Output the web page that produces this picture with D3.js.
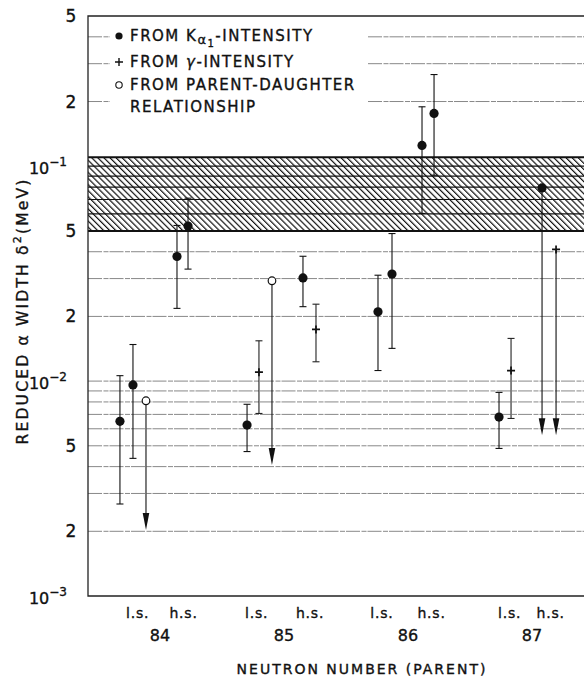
<!DOCTYPE html>
<html><head><meta charset="utf-8">
<script src="https://cdn.jsdelivr.net/npm/d3@7"></script>
<style>
html,body{margin:0;padding:0;background:#fff;}
svg{display:block;}
text{font-family:"DejaVu Sans",sans-serif;fill:#111;stroke:#111;stroke-width:0.35px;}
</style></head>
<body>
<svg id="c" width="584" height="677"></svg>
<script>
// ---- data ----
const groups = [84, 85, 86, 87];
const lsPos = [83.82, 84.78, 85.79, 86.82];
const hsPos = [84.19, 85.21, 86.19, 87.15];

// filled circles: from K-alpha1 intensity
const kaX   = [83.677, 83.782, 84.137, 84.226, 84.702, 85.153, 85.758, 85.871, 86.113, 86.210, 86.734];
const kaVal = [0.0065, 0.0096, 0.038, 0.0527, 0.00624, 0.0302, 0.021, 0.0315, 0.125, 0.176, 0.0068];
const kaLo  = [0.00268, 0.00437, 0.0218, 0.0332, 0.0047, 0.0222, 0.0112, 0.0142, 0.0603, 0.0908, 0.00486];
const kaHi  = [0.0106, 0.0148, 0.053, 0.071, 0.0078, 0.0381, 0.0311, 0.0486, 0.189, 0.267, 0.00886];
// filled circle upper limits
const kaLimX = [87.081];
const kaLimVal = [0.0792];
const kaLimTo = [0.0056];

// plus: from gamma intensity
const gX   = [84.798, 85.258, 86.831];
const gVal = [0.011, 0.0174, 0.0112];
const gLo  = [0.00707, 0.0123, 0.0067];
const gHi  = [0.0154, 0.0228, 0.0158];
const gLimX = [87.194];
const gLimVal = [0.041];
const gLimTo = [0.0056];

// open circles: parent-daughter relationship (upper limits)
const pdX = [83.887, 84.903];
const pdVal = [0.0081, 0.0293];
const pdTo = [0.00203, 0.00407];

// band (hatched)
const bandLo = 0.05, bandHi = 0.11;

// axis ticks
const yTickVals = [0.5, 0.2, 0.1, 0.05, 0.02, 0.01, 0.005, 0.002, 0.001];
const yTickText = ["5", "2", "10|−1", "5", "2", "10|−2", "5", "2", "10|−3"];
const gridFull = [0.002,0.003,0.004,0.005,0.006,0.007,0.008,0.009,0.01,0.02,0.03,0.04];
const gridBand = [0.06,0.07,0.08,0.09,0.1];
const gridTop = [0.2,0.3,0.4];

// ---- layout ----
const L = 88, R = 600, T = 16, B = 596;
const svg = d3.select("#c");
const y = d3.scaleLog().domain([0.001, 0.5]).range([B, T]);
const x = d3.scaleLinear().domain([84, 87]).range([160, 532]);

const defs = svg.append("defs");
const pat = defs.append("pattern").attr("id","hatch").attr("patternUnits","userSpaceOnUse")
  .attr("width",4.3).attr("height",4.3).attr("patternTransform","rotate(-45)");
pat.append("line").attr("x1",0.6).attr("y1",-1).attr("x2",0.6).attr("y2",5.3)
  .attr("stroke","#111").attr("stroke-width",1.2);
defs.append("clipPath").attr("id","clip").append("rect").attr("x",L).attr("y",T).attr("width",584-L).attr("height",B-T);

const plot = svg.append("g").attr("clip-path","url(#clip)");

// gridlines
const gridStyle = s => s.attr("stroke","#7a7a7a").attr("stroke-width",0.9).attr("stroke-dasharray","14,1.5,5,1");
plot.selectAll(".gf").data(gridFull).enter().append("line")
  .attr("x1",L).attr("x2",R).attr("y1",d=>y(d)).attr("y2",d=>y(d)).call(gridStyle);
plot.selectAll(".gt1").data(gridTop).enter().append("line")
  .attr("x1",L).attr("x2",110).attr("y1",d=>y(d)).attr("y2",d=>y(d)).call(gridStyle);
plot.selectAll(".gt2").data(gridTop).enter().append("line")
  .attr("x1",368).attr("x2",R).attr("y1",d=>y(d)).attr("y2",d=>y(d)).call(gridStyle);

// hatched band
plot.append("rect").attr("x",L).attr("width",R-L).attr("y",y(bandHi)).attr("height",y(bandLo)-y(bandHi))
  .attr("fill","url(#hatch)");
plot.selectAll(".gb").data(gridBand).enter().append("line")
  .attr("x1",L).attr("x2",R).attr("y1",d=>y(d)).attr("y2",d=>y(d)).attr("stroke","#111").attr("stroke-width",1.2);
plot.selectAll(".bb").data([bandLo, bandHi]).enter().append("line")
  .attr("x1",L).attr("x2",R).attr("y1",d=>y(d)).attr("y2",d=>y(d)).attr("stroke","#111").attr("stroke-width",2);

// frame
svg.append("path").attr("d",`M584,${T}H${L}V${B}H584`).attr("fill","none").attr("stroke","#222").attr("stroke-width",1.3);

// error bars
const cap = 3.5;
function errBars(xs, lo, hi, col) {
  xs.forEach((xv,i)=>{
    const g = plot.append("g").attr("stroke",col).attr("stroke-width",1.1);
    g.append("line").attr("x1",x(xv)).attr("x2",x(xv)).attr("y1",y(lo[i])).attr("y2",y(hi[i]));
    g.append("line").attr("x1",x(xv)-cap).attr("x2",x(xv)+cap).attr("y1",y(lo[i])).attr("y2",y(lo[i]));
    g.append("line").attr("x1",x(xv)-cap).attr("x2",x(xv)+cap).attr("y1",y(hi[i])).attr("y2",y(hi[i]));
  });
}
errBars(kaX, kaLo, kaHi, "#111");
errBars(gX, gLo, gHi, "#222");

// upper-limit arrows
function arrows(xs, from, to) {
  xs.forEach((xv,i)=>{
    const px = x(xv), y0 = y(from[i]), y1 = y(to[i]);
    plot.append("line").attr("x1",px).attr("x2",px).attr("y1",y0).attr("y2",y1-10).attr("stroke","#111").attr("stroke-width",1.1);
    plot.append("path").attr("d",`M${px-3.3},${y1-17}L${px+3.3},${y1-17}L${px},${y1}Z`).attr("fill","#111");
  });
}
arrows(kaLimX, kaLimVal, kaLimTo);
arrows(gLimX, gLimVal, gLimTo);
arrows(pdX, pdVal, pdTo);

// markers
plot.selectAll(".ka").data(kaX.concat(kaLimX)).enter().append("circle")
  .attr("cx",d=>x(d)).attr("cy",(d,i)=>y(kaVal.concat(kaLimVal)[i])).attr("r",4.6).attr("fill","#111");
const gAllX = gX.concat(gLimX), gAllV = gVal.concat(gLimVal);
gAllX.forEach((xv,i)=>{
  const px=x(xv), py=y(gAllV[i]);
  plot.append("path").attr("d",`M${px-4},${py}H${px+4}M${px},${py-4}V${py+4}`).attr("stroke","#111").attr("stroke-width",1.7);
});
plot.selectAll(".pd").data(pdX).enter().append("circle")
  .attr("cx",d=>x(d)).attr("cy",(d,i)=>y(pdVal[i])).attr("r",3.8).attr("fill","#fff").attr("stroke","#111").attr("stroke-width",1.2);

// y tick labels
yTickVals.forEach((v,i)=>{
  const t = yTickText[i];
  if (t.includes("|")) {
    const [b, e] = t.split("|");
    const tx = svg.append("text").attr("x",67).attr("y",y(v)+8).attr("text-anchor","end").style("font-size","16px");
    tx.append("tspan").text(b);
    tx.append("tspan").attr("dy",-8).style("font-size","12px").text(e);
  } else {
    svg.append("text").attr("x",71).attr("y",y(v)+6).attr("text-anchor","middle").style("font-size","17px").text(t);
  }
});

// x labels
lsPos.forEach(p=>svg.append("text").attr("x",x(p)).attr("y",618).attr("text-anchor","middle").style("font-size","14px").style("letter-spacing","0.8px").text("l.s."));
hsPos.forEach(p=>svg.append("text").attr("x",x(p)).attr("y",618).attr("text-anchor","middle").style("font-size","14px").style("letter-spacing","0.8px").text("h.s."));
groups.forEach(g=>svg.append("text").attr("x",x(g)).attr("y",641).attr("text-anchor","middle").style("font-size","16px").text(g));
svg.append("text").attr("x",362).attr("y",674).attr("text-anchor","middle").style("font-size","14px").style("letter-spacing","2px").text("NEUTRON NUMBER (PARENT)");

// y title
const yt = svg.append("text").attr("transform","translate(28,311) rotate(-90)").attr("text-anchor","middle")
  .style("font-size","15.5px").style("letter-spacing","2.2px");
yt.append("tspan").text("REDUCED α WIDTH δ");
yt.append("tspan").attr("dy",-7).style("font-size","11px").text("2");
yt.append("tspan").attr("dy",7).text("(MeV)");

// legend
const lg = svg.append("g");
lg.append("circle").attr("cx",119).attr("cy",36).attr("r",3.6).attr("fill","#111");
lg.append("path").attr("d","M115,62H123M119,58V66").attr("stroke","#111").attr("stroke-width",1.4);
lg.append("circle").attr("cx",119).attr("cy",85).attr("r",3.2).attr("fill","#fff").attr("stroke","#111").attr("stroke-width",1.1);
const ls = "1.5px", fs = "15px";
const t1 = lg.append("text").attr("x",130).attr("y",41).style("font-size",fs).style("letter-spacing",ls);
t1.append("tspan").text("FROM K");
t1.append("tspan").attr("dy",3).style("font-size","13px").text("α");
t1.append("tspan").attr("dy",3).style("font-size","10px").text("1");
t1.append("tspan").attr("dy",-6).text("-INTENSITY");
const t2 = lg.append("text").attr("x",130).attr("y",67).style("font-size",fs).style("letter-spacing",ls);
t2.append("tspan").text("FROM ");
t2.append("tspan").style("font-style","italic").text("γ");
t2.append("tspan").text("-INTENSITY");
lg.append("text").attr("x",130).attr("y",90).style("font-size",fs).style("letter-spacing",ls).text("FROM PARENT-DAUGHTER");
lg.append("text").attr("x",130).attr("y",112).style("font-size",fs).style("letter-spacing",ls).text("RELATIONSHIP");
</script>
</body></html>
